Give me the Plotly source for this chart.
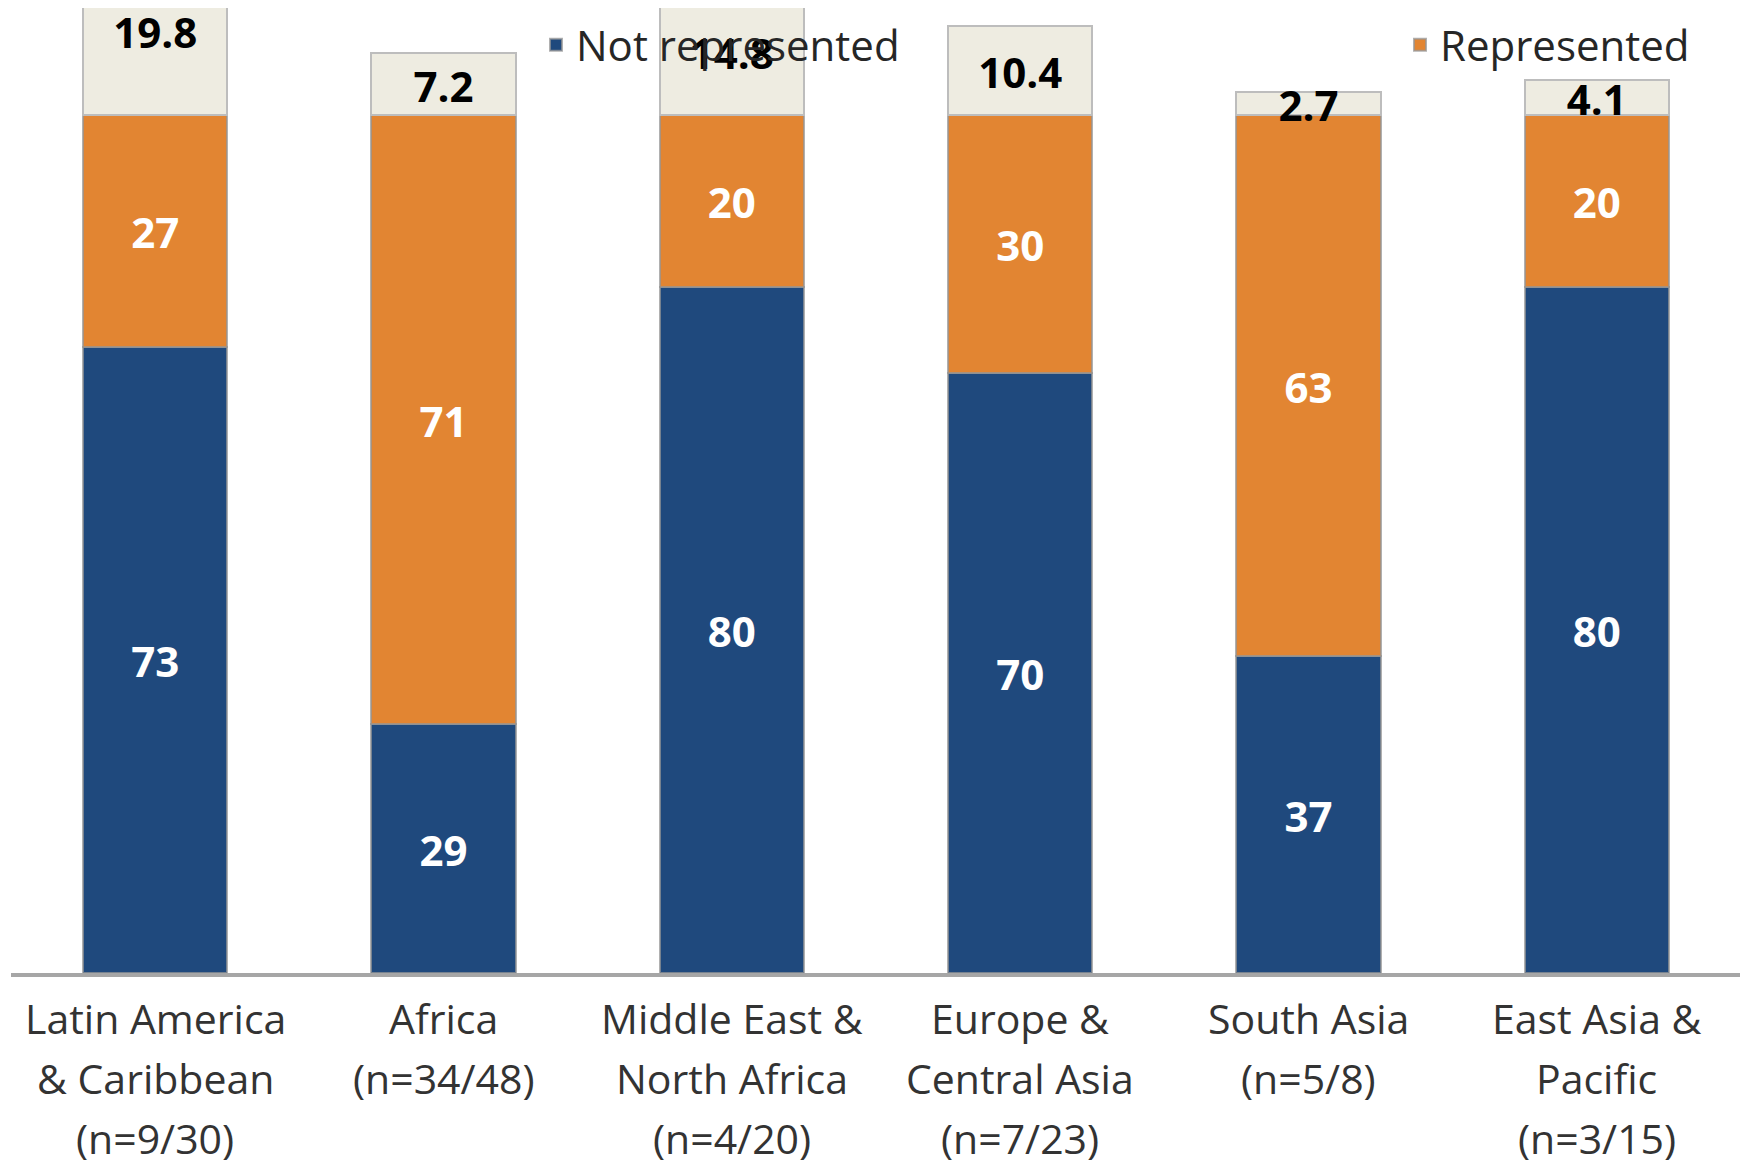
import plotly.graph_objects as go

categories = [
    "Latin America<br>& Caribbean<br>(n=9/30)",
    "Africa<br>(n=34/48)",
    "Middle East &<br>North Africa<br>(n=4/20)",
    "Europe &<br>Central Asia<br>(n=7/23)",
    "South Asia<br>(n=5/8)",
    "East Asia &<br>Pacific<br>(n=3/15)",
]
not_represented = [73, 29, 80, 70, 37, 80]
represented = [27, 71, 20, 30, 63, 20]
extra = [19.8, 7.2, 14.8, 10.4, 2.7, 4.1]

FONT = "Open Sans"
BLUE = "#1F497D"
ORANGE = "#E28532"
BEIGE = "#EEECE1"
EDGE = "rgba(150,150,150,0.75)"

fig = go.Figure()
fig.add_trace(go.Bar(x=categories, y=not_represented, name="Not represented",
                     marker=dict(color=BLUE, line=dict(color=EDGE, width=2)),
                     legend="legend"))
fig.add_trace(go.Bar(x=categories, y=represented, name="Represented",
                     marker=dict(color=ORANGE, line=dict(color=EDGE, width=2)),
                     legend="legend2"))
fig.add_trace(go.Bar(x=categories, y=extra, name="extra", showlegend=False,
                     marker=dict(color=BEIGE, line=dict(color="#BDBDBD", width=2))))

# data labels, centred in each segment (small downward nudge for optical centring)
DROP = 0.8
y1 = [v / 2 - DROP for v in not_represented]
y2 = [a + b / 2 - DROP for a, b in zip(not_represented, represented)]
y3 = [a + b + c / 2 - DROP for a, b, c in zip(not_represented, represented, extra)]
LAB = 42
fig.add_trace(go.Scatter(x=categories, y=y1, mode="text", text=[str(v) for v in not_represented],
                         textfont=dict(family=FONT, size=LAB, color="white", weight="bold"),
                         showlegend=False, cliponaxis=False, hoverinfo="skip"))
fig.add_trace(go.Scatter(x=categories, y=y2, mode="text", text=[str(v) for v in represented],
                         textfont=dict(family=FONT, size=LAB, color="white", weight="bold"),
                         showlegend=False, cliponaxis=False, hoverinfo="skip"))
fig.add_trace(go.Scatter(x=categories, y=y3, mode="text", text=[f"{v:.1f}" for v in extra],
                         textfont=dict(family=FONT, size=LAB, color="black", weight="bold"),
                         showlegend=False, cliponaxis=False, hoverinfo="skip"))

# category labels, one annotation per line for Excel-like line spacing
annotations = []
for cat in categories:
    for i, line in enumerate(cat.split("<br>")):
        annotations.append(dict(x=cat, xref="x", y=0, yref="y", text=line, showarrow=False,
                                yanchor="middle", yshift=-(45 + i * 60),
                                font=dict(family=FONT, size=41, color="#333333")))

# the page body adds an 8px offset; size the figure so it fits the window
W, H = 1740, 1153
L, R, T, B = 3, 7, 0, 188
PW, PH = W - L - R, H - T - B
OFF = 8
fig.update_layout(
    width=W, height=H,
    barmode="stack", bargap=0.5,
    plot_bgcolor="white", paper_bgcolor="white",
    margin=dict(l=L, r=R, t=T, b=B, autoexpand=False),
    font=dict(family=FONT, color="#262626"),
    annotations=annotations,
    legend=dict(x=(536 - OFF - L) / PW, y=1 - (45 - OFF - T) / PH,
                xanchor="left", yanchor="middle", bgcolor="rgba(0,0,0,0)",
                font=dict(family=FONT, size=42, color="#262626"), itemwidth=30),
    legend2=dict(x=(1400 - OFF - L) / PW, y=1 - (45 - OFF - T) / PH,
                 xanchor="left", yanchor="middle", bgcolor="rgba(0,0,0,0)",
                 font=dict(family=FONT, size=42, color="#262626"), itemwidth=30),
    xaxis=dict(range=[-0.5, 5.5], showline=True, linecolor="#A6A6A6", linewidth=4,
               showticklabels=False, ticks="", showgrid=False, zeroline=False,
               automargin=False),
    yaxis=dict(range=[0, 112.5], visible=False, showgrid=False, zeroline=False,
               automargin=False),
)

fig.write_html("out.html")
